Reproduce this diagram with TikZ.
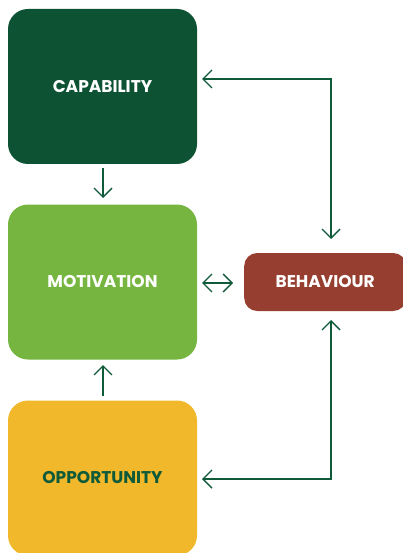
\documentclass[tikz,border=0pt]{standalone}
\usepackage{fontspec}
\setmainfont{Poppins}
\usetikzlibrary{arrows.meta}
\definecolor{capc}{HTML}{0D5233}
\definecolor{motc}{HTML}{76B640}
\definecolor{oppc}{HTML}{F0B82A}
\definecolor{behc}{HTML}{963F31}
\definecolor{linec}{HTML}{0F5A38}
\tikzset{
  box/.style={rounded corners=20pt, minimum width=189pt, minimum height=155pt, inner sep=0pt, font=\fontsize{17}{19}\selectfont\bfseries, text=white},
  conn/.style={draw=linec, line width=1.4pt, -{Straight Barb[length=9pt,width=18pt,line width=1.4pt]}},
  conn2/.style={draw=linec, line width=1.4pt, {Straight Barb[length=9pt,width=18pt,line width=1.4pt]}-{Straight Barb[length=9pt,width=18pt,line width=1.4pt]}}
}
\begin{document}
\begin{tikzpicture}[x=1pt,y=-1pt]
\useasboundingbox (0,0) rectangle (402,553);
\node[box, fill=capc] (cap) at (102.5,86.5) {CAPABILITY};
\node[box, fill=motc] (mot) at (102.5,282) {MOTIVATION};
\node[box, fill=oppc, text=linec] (opp) at (102.5,478) {OPPORTUNITY};
\node[box, fill=behc, minimum width=162pt, minimum height=58pt, rounded corners=13pt, anchor=west] (beh) at (244,282) {BEHAVIOUR};
\coordinate (c1) at (331,79);
\coordinate (c2) at (331,479);
\draw[conn] (103,168) -- (103,198);
\draw[conn] (103,396) -- (103,365);
\draw[conn2] (202,283) -- (233,283);
\draw[conn2] (331,239) -- (c1) -- (202,79);
\draw[conn2] (331,320) -- (c2) -- (202,479);
\end{tikzpicture}
\end{document}
